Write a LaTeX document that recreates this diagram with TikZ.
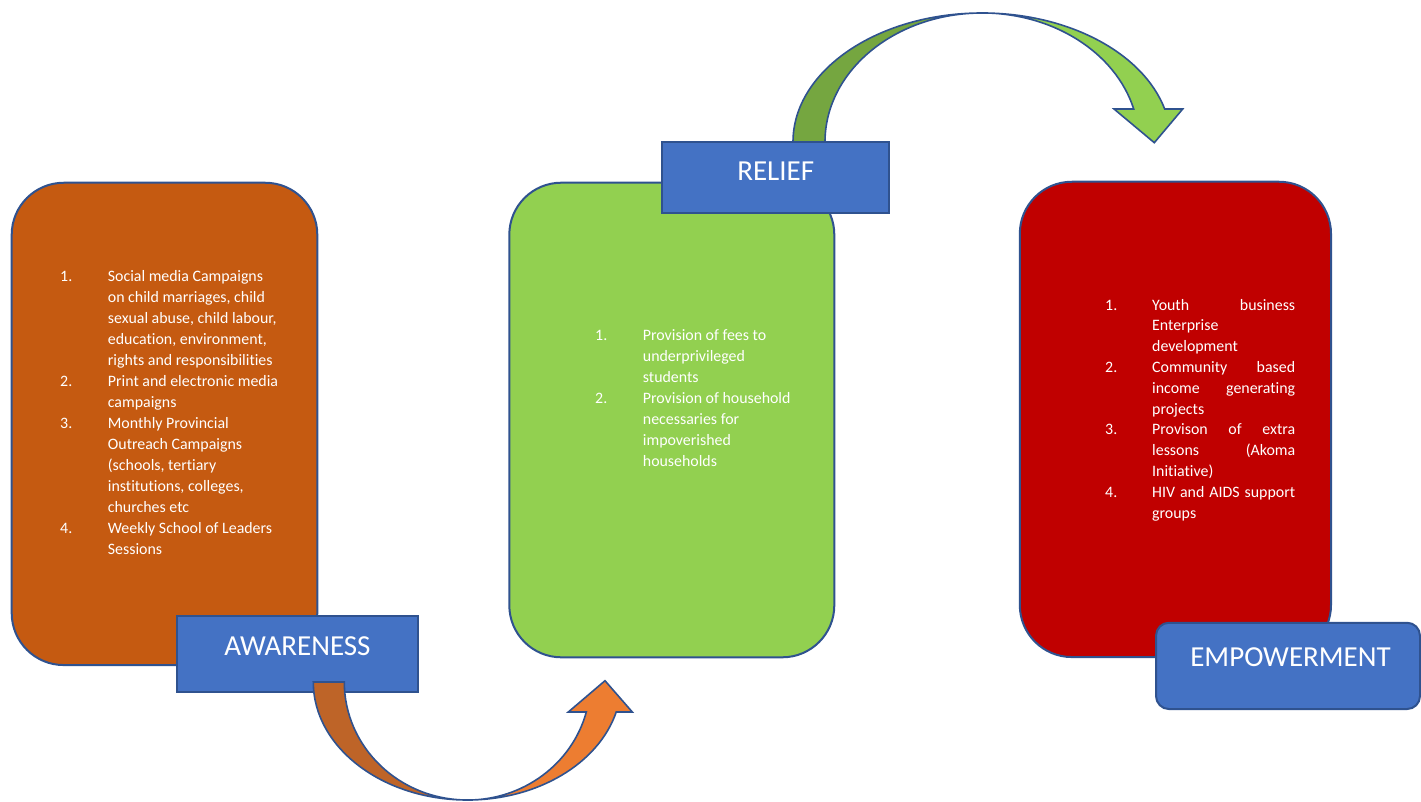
\documentclass[tikz,border=0pt]{standalone}
\usepackage{fontspec}
\setmainfont{Carlito}[Ligatures={NoCommon,NoRare,NoContextual}]
\usepackage{array}
\definecolor{bord}{HTML}{2F528F}
\definecolor{lblue}{HTML}{4472C4}
\definecolor{orangebox}{HTML}{C55A11}
\definecolor{greenbox}{HTML}{92D050}
\definecolor{redbox}{HTML}{C00000}
\definecolor{arrowdark}{HTML}{BE6428}
\definecolor{arrowlight}{HTML}{ED7D31}
\definecolor{gdark}{HTML}{75A640}
\definecolor{glight}{HTML}{92D050}
\newcommand{\jline}[1]{\hbox to 143pt{#1}}
\begin{document}
\begin{tikzpicture}[x=1pt,y=-1pt,
  bigbox/.style={draw=bord, line width=2pt, rounded corners=52pt, inner sep=0pt},
  lblbox/.style={draw=bord, line width=2pt, fill=lblue, text=white,
    font=\fontsize{29}{35}\selectfont, inner sep=0pt, text height=19pt},
  listtext/.style={anchor=base west, inner sep=0pt, text=white,
    font=\fontsize{15.9}{21}\selectfont},
  arrshape/.style={draw=bord, line width=1.6pt, line join=miter}]
\useasboundingbox (0,0) rectangle (1421,802);

% ---------- AWARENESS ----------
\node[bigbox, fill=orangebox, minimum width=305.6pt, minimum height=482.3pt] (awbox) at (164.5,423.9) {};
\node[listtext] (awlist) at (60,281.7) {\begin{tabular}[t]{@{}p{47.7pt}@{}l@{}}
1. & Social media Campaigns\\
   & on child marriages, child\\
   & sexual abuse, child labour,\\
   & education, environment,\\
   & rights and responsibilities\\
2. & Print and electronic media\\
   & campaigns\\
3. & Monthly Provincial\\
   & Outreach Campaigns\\
   & (schools, tertiary\\
   & institutions, colleges,\\
   & churches etc\\
4. & Weekly School of Leaders\\
   & Sessions
\end{tabular}};
\node[lblbox, minimum width=241.6pt, minimum height=76pt, text depth=16.4pt] (awlbl) at (297.5,653.7) {AWARENESS};

% bottom curved arrow (orange)
\path[arrshape, fill=arrowdark] (313.3,682)
  arc[start angle=180, end angle=90, x radius=154, y radius=118]
  arc[start angle=90, end angle=180, x radius=123, y radius=118] -- cycle;
\path[arrshape, fill=arrowlight] (467.3,800)
  arc[start angle=90, end angle=14.7, x radius=154, y radius=118]
  -- (632.3,712) -- (605,680.7) -- (568.3,712) -- (586.3,712)
  arc[start angle=14.7, end angle=90, x radius=123, y radius=118] -- cycle;

% ---------- RELIEF ----------
\node[bigbox, fill=greenbox, minimum width=325pt, minimum height=474.6pt] (rebox) at (671.8,420) {};
\node[listtext] (relist) at (595,340) {\begin{tabular}[t]{@{}p{47.7pt}@{}l@{}}
1. & Provision of fees to\\
   & underprivileged\\
   & students\\
2. & Provision of household\\
   & necessaries for\\
   & impoverished\\
   & households
\end{tabular}};

% top curved arrow (green)
\path[arrshape, fill=gdark] (793,152) -- (793,142)
  arc[start angle=180, end angle=270, x radius=189, y radius=129]
  arc[start angle=270, end angle=180, x radius=157, y radius=129]
  -- (825,152) -- cycle;
\path[arrshape, fill=glight] (982,13)
  arc[start angle=270, end angle=345.2, x radius=189, y radius=129]
  -- (1182.7,109) -- (1154.3,142.7) -- (1114,109) -- (1133.7,109)
  arc[start angle=345.2, end angle=270, x radius=157, y radius=129] -- cycle;

\node[lblbox, minimum width=226.7pt, minimum height=71.6pt, text depth=12pt] (relbl) at (775.7,177.5) {RELIEF};

% ---------- EMPOWERMENT ----------
\node[bigbox, fill=redbox, minimum width=311.2pt, minimum height=475.3pt] (embox) at (1175.4,419.4) {};
\node[listtext, font=\fontsize{15.9}{20.8}\selectfont] (emlist) at (1105,310) {\begin{tabular}[t]{@{}p{47pt}@{}l@{}}
1. & \jline{Youth\hfill business}\\
   & Enterprise\\
   & development\\
2. & \jline{Community\hfill based}\\
   & \jline{income\hfill generating}\\
   & projects\\
3. & \jline{Provison\hfill of\hfill extra}\\
   & \jline{lessons\hfill (Akoma}\\
   & Initiative)\\
4. & \jline{HIV\hfill and\hfill AIDS\hfill support}\\
   & groups
\end{tabular}};
\node[lblbox, rounded corners=13pt, minimum width=264pt, minimum height=86.3pt, text depth=18.8pt] (emlbl) at (1288,665.9) {\hspace*{5pt}EMPOWERMENT};
\end{tikzpicture}
\end{document}
